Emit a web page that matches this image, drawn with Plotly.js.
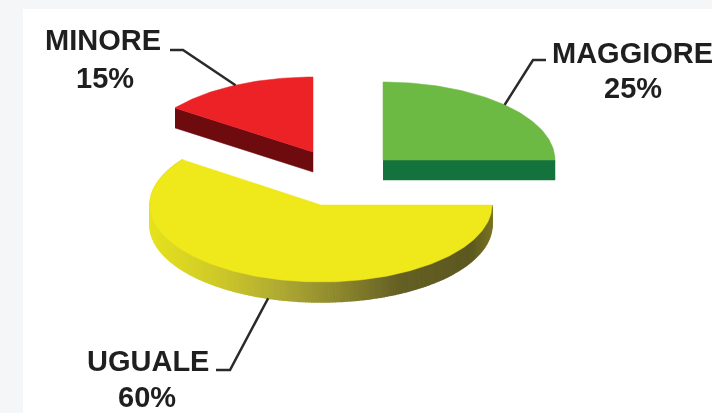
<!DOCTYPE html>
<html>
<head>
<meta charset="utf-8">
<script src="https://cdn.plot.ly/plotly-3.0.1.min.js"></script>
<style>
html,body{margin:0;padding:0;background:#f4f6f8;overflow:hidden}
#chart{width:712px;height:413px;filter:blur(0.7px)}
</style>
</head>
<body>
<div id="chart"></div>
<script>
// Data
const categories = ['MAGGIORE', 'UGUALE', 'MINORE'];
const percentages = [25, 60, 15];

// Style
const topColors = ['#6cb944', '#efe81a', '#ed2226'];
const wallColors = ['#14733c', null, '#6e0b0e'];
const yellowWallStops = [[150,[230,226,30]],[220,[205,200,40]],[280,[175,170,50]],[340,[140,135,45]],[400,[100,95,35]],[470,[92,88,32]],[492,[120,115,35]]];

// Geometry of each exploded slice (pixel-scale axes)
const geo = [
  {cx:383, cy:160, rx:172, ry:78, depth:20},
  {cx:321, cy:205, rx:171, ry:77, depth:20},
  {cx:313, cy:152, rx:138/Math.sin(54*Math.PI/180), ry:75, depth:20}
];
const labelPos = [
  {name:[632,53], pct:[633,88], elbow:[[533,60],[546,60]]},
  {name:[148,361], pct:[147,397], elbow:[[230,370],[216,370]]},
  {name:[103,40], pct:[105,78], elbow:[[183,50],[170,50]]}
];
const fontSpec = {family:'"Liberation Sans", Arial, sans-serif', size:29, color:'#1f1f1f', weight:700};

function pt(g, deg, dz){
  const a = deg*Math.PI/180;
  return [g.cx + g.rx*Math.sin(a), g.cy - g.ry*Math.cos(a) + (dz||0)];
}
function wallColor(x){
  const s = yellowWallStops;
  if (x<=s[0][0]) return 'rgb('+s[0][1].join(',')+')';
  for (let i=1;i<s.length;i++){
    if (x<=s[i][0]){
      const t=(x-s[i-1][0])/(s[i][0]-s[i-1][0]);
      const c=s[i-1][1].map((v,k)=>Math.round(v+(s[i][1][k]-v)*t));
      return 'rgb('+c.join(',')+')';
    }
  }
  return 'rgb('+s[s.length-1][1].join(',')+')';
}
function poly(points, color, lineW){
  return {type:'scatter', mode:'lines', x:points.map(p=>p[0]), y:points.map(p=>p[1]),
    fill:'toself', fillcolor:color, line:{color:color, width:lineW||0.5}, hoverinfo:'skip', showlegend:false};
}

const traces = [];
const annotations = [];
const shapes = [{type:'rect', xref:'x', yref:'y', x0:23, x1:720, y0:9, y1:420, fillcolor:'#ffffff', line:{width:0}, layer:'below'}];
let start = 0;
const total = percentages.reduce((a,b)=>a+b,0);

categories.forEach((cat,i)=>{
  const g = geo[i];
  const sweep = percentages[i]/total*360;
  const end = start+sweep;
  const N = Math.max(12, Math.round(sweep));
  const arc = [];
  for (let k=0;k<=N;k++) arc.push(start+sweep*k/N);

  if (i===0){
    const a=[g.cx,g.cy], b=pt(g,90);
    traces.push(poly([a,b,[b[0],b[1]+g.depth],[a[0],a[1]+g.depth]], wallColors[i]));
  } else if (i===1){
    for (let k=0;k<N;k++){
      const p0=pt(g,arc[k]), p1=pt(g,arc[k+1]);
      const col=wallColor((p0[0]+p1[0])/2);
      traces.push(poly([p0,p1,[p1[0],p1[1]+g.depth],[p0[0],p0[1]+g.depth]], col, 1.5));
    }
  } else {
    const a=pt(g,start), b=[g.cx,g.cy];
    traces.push(poly([a,b,[b[0],b[1]+g.depth],[a[0],a[1]+g.depth]], wallColors[i]));
  }

  const top=[[g.cx,g.cy]].concat(arc.map(d=>pt(g,d)));
  top.push([g.cx,g.cy]);
  traces.push(poly(top, topColors[i]));

  const mid=start+sweep/2;
  const rim=pt(g,mid, i===1 ? g.depth : 0);
  const lp=labelPos[i];
  traces.push({type:'scatter', mode:'lines', x:[rim[0],lp.elbow[0][0],lp.elbow[1][0]], y:[rim[1],lp.elbow[0][1],lp.elbow[1][1]],
    line:{color:'#2a2a2a', width:2.5}, hoverinfo:'skip', showlegend:false});

  annotations.push({x:lp.name[0], y:lp.name[1], xref:'x', yref:'y', text:cat, showarrow:false, font:fontSpec, xanchor:'center', yanchor:'middle'});
  annotations.push({x:lp.pct[0], y:lp.pct[1], xref:'x', yref:'y', text:percentages[i]+'%', showarrow:false, font:fontSpec, xanchor:'center', yanchor:'middle'});
  start=end;
});

const hidden={visible:false, fixedrange:true};
Plotly.newPlot('chart', traces, {
  width:712, height:413,
  margin:{l:0,r:0,t:0,b:0},
  paper_bgcolor:'#f4f6f8', plot_bgcolor:'rgba(0,0,0,0)',
  xaxis:Object.assign({range:[0,712]},hidden),
  yaxis:Object.assign({range:[413,0]},hidden),
  shapes:shapes, annotations:annotations, showlegend:false
}, {displayModeBar:false, staticPlot:true});
</script>
</body>
</html>
